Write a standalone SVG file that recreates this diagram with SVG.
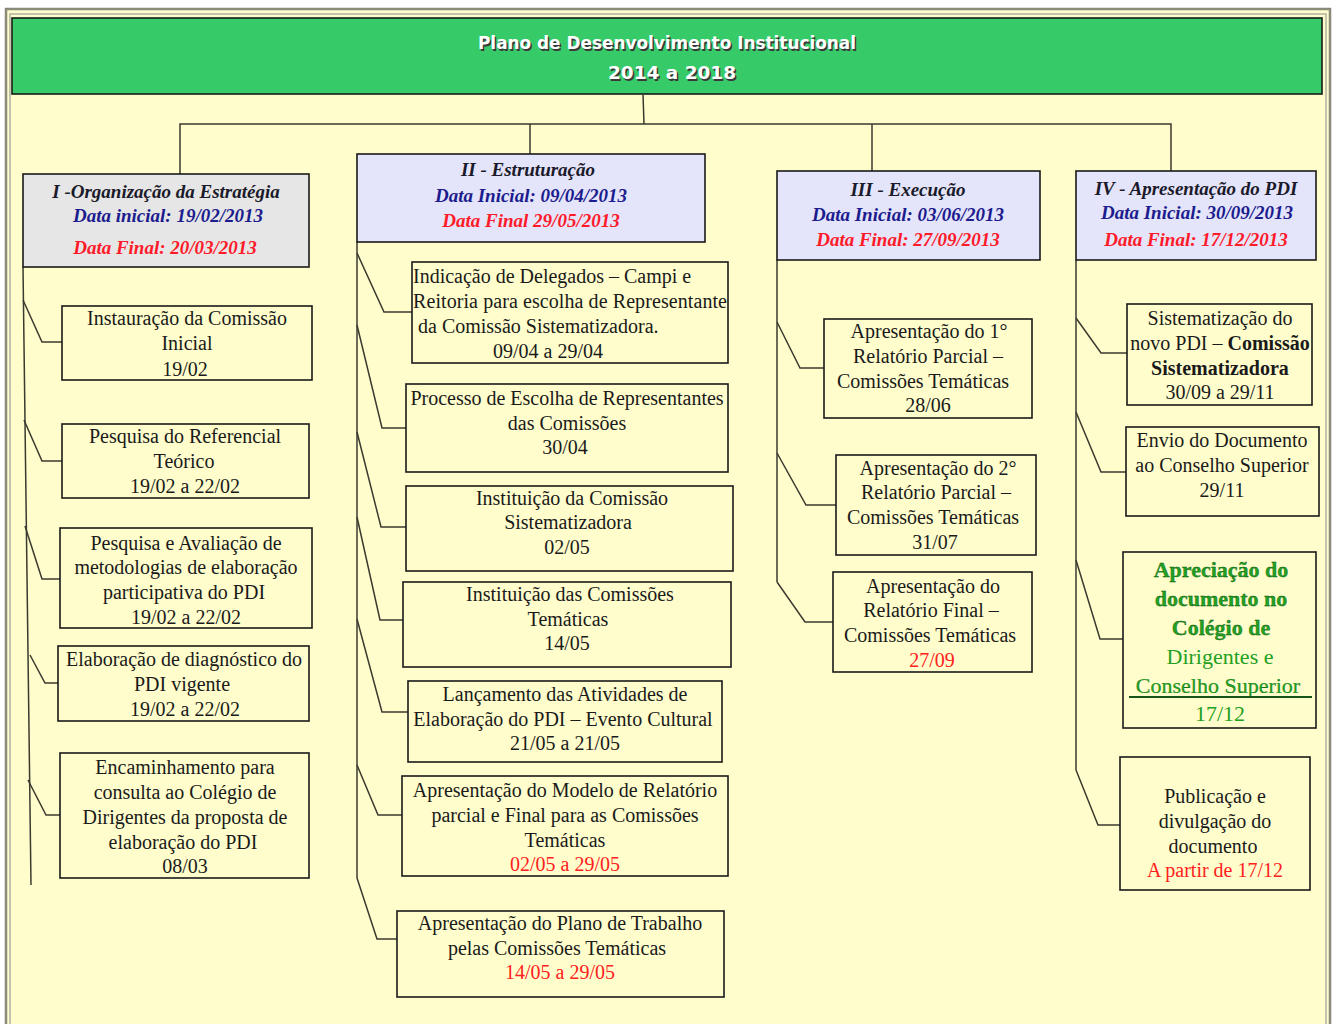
<svg xmlns="http://www.w3.org/2000/svg" width="1336" height="1024" viewBox="0 0 1336 1024">
<style>
.box{fill:#FFFDCC;stroke:#1a1a1a;stroke-width:1.6}
.hd1{fill:#E6E6E6;stroke:#1a1a1a;stroke-width:1.6}
.hd{fill:#E4E4FA;stroke:#1a1a1a;stroke-width:1.6}
.t{font-family:"Liberation Serif","Times New Roman",serif;font-size:20px;fill:#1a1a1a;text-anchor:middle}
.ts{font-family:"Liberation Serif","Times New Roman",serif;font-size:20px;fill:#1a1a1a}
.red{fill:#FF2020}
.h{font-family:"Liberation Serif","Times New Roman",serif;font-size:19px;font-weight:bold;font-style:italic;text-anchor:middle;fill:#1a1a2a}
.nv{fill:#1C1C8E}
.rd{fill:#FF1A2A}
.g{font-family:"Liberation Serif","Times New Roman",serif;font-size:22px;text-anchor:middle;fill:#22A022}
.tt{font-family:"DejaVu Sans",sans-serif;font-size:18px;font-weight:bold;text-anchor:middle}
#connectors path{fill:none;stroke:#3a3a30;stroke-width:1.5}
</style>
<rect x="0" y="0" width="1336" height="1024" fill="#ffffff"/>
<rect x="6" y="9" width="1324" height="1030" fill="#FFFDCC" stroke="#8a8a7a" stroke-width="2.5"/>
<rect x="10" y="14" width="1316" height="1030" fill="none" stroke="#b0b0a0" stroke-width="1.5"/>

<g id="title">
<rect x="12" y="18" width="1310" height="76" fill="#36CB68" stroke="#1a1a1a" stroke-width="1.6"/>
<text class="tt" x="668.5" y="50.5" fill="#3a3a3a" textLength="378" lengthAdjust="spacingAndGlyphs">Plano de Desenvolvimento Institucional</text>
<text class="tt" x="667" y="49" fill="#ffffff" textLength="378" lengthAdjust="spacingAndGlyphs">Plano de Desenvolvimento Institucional</text>
<text class="tt" x="673.5" y="80.5" fill="#3a3a3a" textLength="128" lengthAdjust="spacingAndGlyphs">2014 a 2018</text>
<text class="tt" x="672" y="79" fill="#ffffff" textLength="128" lengthAdjust="spacingAndGlyphs">2014 a 2018</text>
</g>

<g id="connectors">
<path d="M643,94 L644,124"/>
<path d="M180,174 L180,124 L1171,124 L1171,171"/>
<path d="M530,124 L530,154"/>
<path d="M872,124 L872,171"/>
<path d="M23,267 L31,885"/>
<path d="M23,300 L42,342 L62,342"/>
<path d="M24,420 L42,461 L62,461"/>
<path d="M25,526 L42,579 L60,579"/>
<path d="M30,655 L45,683 L58,683"/>
<path d="M28,780 L46,815 L60,815"/>
<path d="M357,242 L357,878"/>
<path d="M357,253 L384,312 L412,312"/>
<path d="M357,325 L382,428 L406,428"/>
<path d="M357,432 L381,527 L406,527"/>
<path d="M357,517 L380,620 L403,620"/>
<path d="M357,619 L382,712 L408,712"/>
<path d="M357,765 L378,815 L402,815"/>
<path d="M357,878 L377,939 L397,939"/>
<path d="M777,260 L777,582"/>
<path d="M777,322 L800,368 L824,368"/>
<path d="M777,453 L806,505 L836,505"/>
<path d="M777,582 L805,622 L833,622"/>
<path d="M1076,260 L1076,770"/>
<path d="M1076,318 L1101,353 L1127,353"/>
<path d="M1076,412 L1101,472 L1126,472"/>
<path d="M1076,560 L1100,639 L1123,639"/>
<path d="M1076,770 L1098,825 L1120,825"/>
</g>

<g id="phase1">
<rect class="hd1" x="23" y="174" width="286" height="93"/>
<text class="h" x="166" y="198">I -Organização da Estratégia</text>
<text class="h nv" x="168" y="222">Data inicial: 19/02/2013</text>
<text class="h rd" x="165" y="254">Data Final: 20/03/2013</text>
</g>
<g id="p1a">
<rect class="box" x="62" y="306" width="250" height="74"/>
<text class="t" x="187" y="325">Instauração da Comissão</text>
<text class="t" x="187" y="350">Inicial</text>
<text class="t" x="185" y="376">19/02</text>
</g>
<g id="p1b">
<rect class="box" x="62" y="424" width="247" height="74"/>
<text class="t" x="185" y="443">Pesquisa do Referencial</text>
<text class="t" x="184" y="468">Teórico</text>
<text class="t" x="185" y="493">19/02 a 22/02</text>
</g>
<g id="p1c">
<rect class="box" x="60" y="528" width="252" height="100"/>
<text class="t" x="186" y="550">Pesquisa e Avaliação de</text>
<text class="t" x="186" y="574">metodologias de elaboração</text>
<text class="t" x="184" y="599">participativa do PDI</text>
<text class="t" x="186" y="624">19/02 a 22/02</text>
</g>
<g id="p1d">
<rect class="box" x="58" y="646" width="251" height="75"/>
<text class="t" x="184" y="666">Elaboração de diagnóstico do</text>
<text class="t" x="182" y="691">PDI vigente</text>
<text class="t" x="185" y="716">19/02 a 22/02</text>
</g>
<g id="p1e">
<rect class="box" x="60" y="753" width="249" height="125"/>
<text class="t" x="185" y="774">Encaminhamento para</text>
<text class="t" x="185" y="799">consulta ao Colégio de</text>
<text class="t" x="185" y="824">Dirigentes da proposta de</text>
<text class="t" x="183" y="849">elaboração do PDI</text>
<text class="t" x="185" y="873">08/03</text>
</g>

<g id="phase2">
<rect class="hd" x="357" y="154" width="348" height="88"/>
<text class="h" x="528" y="176">II - Estruturação</text>
<text class="h nv" x="531" y="202">Data Inicial: 09/04/2013</text>
<text class="h rd" x="531" y="227">Data Final 29/05/2013</text>
</g>
<g id="p2a">
<rect class="box" x="412" y="262" width="316" height="101"/>
<text class="ts" x="413" y="283">Indicação de Delegados –  Campi e</text>
<text class="ts" x="413" y="308" textLength="314">Reitoria para escolha de Representante</text>
<text class="ts" x="418" y="333">da Comissão Sistematizadora.</text>
<text class="t" x="548" y="358">09/04 a 29/04</text>
</g>
<g id="p2b">
<rect class="box" x="406" y="384" width="322" height="88"/>
<text class="t" x="567" y="405">Processo de Escolha de Representantes</text>
<text class="t" x="567" y="430">das Comissões</text>
<text class="t" x="565" y="454">30/04</text>
</g>
<g id="p2c">
<rect class="box" x="406" y="486" width="327" height="85"/>
<text class="t" x="572" y="505">Instituição da Comissão</text>
<text class="t" x="568" y="529">Sistematizadora</text>
<text class="t" x="567" y="554">02/05</text>
</g>
<g id="p2d">
<rect class="box" x="403" y="582" width="328" height="85"/>
<text class="t" x="570" y="601">Instituição das Comissões</text>
<text class="t" x="568" y="626">Temáticas</text>
<text class="t" x="567" y="650">14/05</text>
</g>
<g id="p2e">
<rect class="box" x="408" y="681" width="314" height="81"/>
<text class="t" x="565" y="701">Lançamento das Atividades de</text>
<text class="t" x="563" y="726">Elaboração do PDI – Evento Cultural</text>
<text class="t" x="565" y="750">21/05 a 21/05</text>
</g>
<g id="p2f">
<rect class="box" x="402" y="776" width="326" height="100"/>
<text class="t" x="565" y="797">Apresentação do Modelo de Relatório</text>
<text class="t" x="565" y="822">parcial e Final para as Comissões</text>
<text class="t" x="565" y="847">Temáticas</text>
<text class="t red" x="565" y="871">02/05 a 29/05</text>
</g>
<g id="p2g">
<rect class="box" x="397" y="911" width="327" height="86"/>
<text class="t" x="560" y="930">Apresentação do Plano  de Trabalho</text>
<text class="t" x="557" y="955">pelas Comissões Temáticas</text>
<text class="t red" x="560" y="979">14/05 a 29/05</text>
</g>

<g id="phase3">
<rect class="hd" x="777" y="171" width="263" height="89"/>
<text class="h" x="908" y="196">III - Execução</text>
<text class="h nv" x="908" y="221">Data Inicial: 03/06/2013</text>
<text class="h rd" x="908" y="246">Data Final: 27/09/2013</text>
</g>
<g id="p3a">
<rect class="box" x="824" y="319" width="208" height="99"/>
<text class="t" x="929" y="338">Apresentação do 1°</text>
<text class="t" x="928" y="363">Relatório Parcial –</text>
<text class="t" x="923" y="388">Comissões Temáticas</text>
<text class="t" x="928" y="412">28/06</text>
</g>
<g id="p3b">
<rect class="box" x="836" y="455" width="200" height="100"/>
<text class="t" x="938" y="475">Apresentação do 2°</text>
<text class="t" x="936" y="499">Relatório Parcial –</text>
<text class="t" x="933" y="524">Comissões Temáticas</text>
<text class="t" x="935" y="549">31/07</text>
</g>
<g id="p3c">
<rect class="box" x="833" y="572" width="199" height="100"/>
<text class="t" x="933" y="593">Apresentação do</text>
<text class="t" x="931" y="617">Relatório Final –</text>
<text class="t" x="930" y="642">Comissões Temáticas</text>
<text class="t red" x="932" y="667">27/09</text>
</g>

<g id="phase4">
<rect class="hd" x="1076" y="171" width="240" height="89"/>
<text class="h" x="1196" y="195">IV - Apresentação do PDI</text>
<text class="h nv" x="1197" y="219">Data Inicial: 30/09/2013</text>
<text class="h rd" x="1196" y="246">Data Final: 17/12/2013</text>
</g>
<g id="p4a">
<rect class="box" x="1127" y="304" width="185" height="101"/>
<text class="t" x="1220" y="325">Sistematização do</text>
<text class="t" x="1220" y="350">novo PDI – <tspan font-weight="bold">Comissão</tspan></text>
<text class="t" x="1220" y="375" font-weight="bold">Sistematizadora</text>
<text class="t" x="1220" y="399">30/09 a 29/11</text>
</g>
<g id="p4b">
<rect class="box" x="1126" y="427" width="193" height="89"/>
<text class="t" x="1222" y="447">Envio do Documento</text>
<text class="t" x="1222" y="472">ao  Conselho Superior</text>
<text class="t" x="1222" y="497">29/11</text>
</g>
<g id="p4c">
<rect class="box" x="1123" y="552" width="193" height="176"/>
<text class="g" x="1221" y="577" font-weight="bold" stroke="#0a4a0a" stroke-width="0.3">Apreciação do</text>
<text class="g" x="1221" y="606" font-weight="bold" stroke="#0a4a0a" stroke-width="0.3">documento no</text>
<text class="g" x="1221" y="635" font-weight="bold" stroke="#0a4a0a" stroke-width="0.3">Colégio de</text>
<text class="g" x="1220" y="664">Dirigentes e</text>
<text class="g" x="1218" y="693" fill="#1E7A1E" stroke="#0a4a0a" stroke-width="0.2">Conselho Superior</text>
<line x1="1129" y1="697" x2="1312" y2="697" stroke="#155515" stroke-width="1.8"/>
<text class="g" x="1220" y="721">17/12</text>
</g>
<g id="p4d">
<rect class="box" x="1120" y="757" width="190" height="133"/>
<text class="t" x="1215" y="803">Publicação e</text>
<text class="t" x="1215" y="828">divulgação do</text>
<text class="t" x="1213" y="853">documento</text>
<text class="t red" x="1215" y="877">A partir de 17/12</text>
</g>
</svg>
